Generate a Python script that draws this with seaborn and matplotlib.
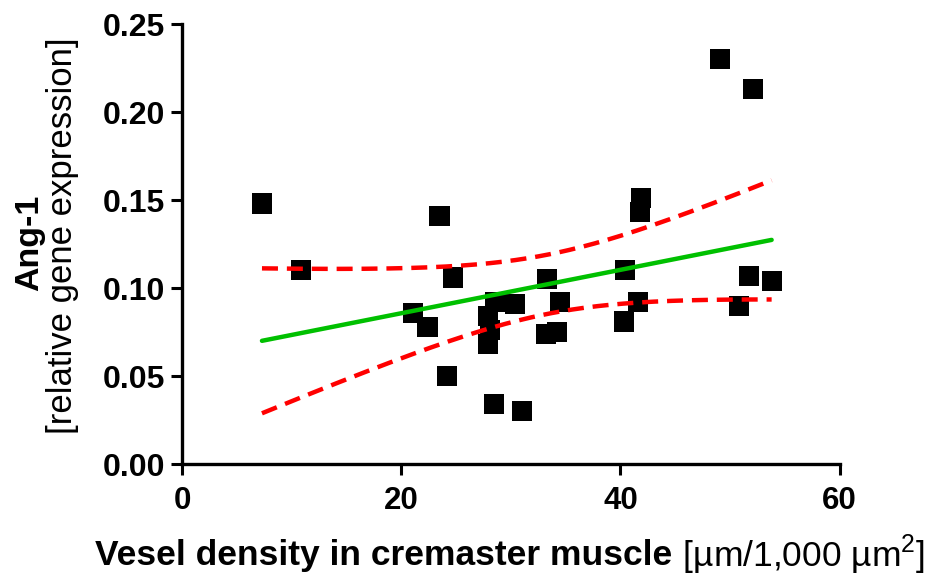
import numpy as np
import pandas as pd
import matplotlib
matplotlib.use("Agg")
import matplotlib.pyplot as plt
import seaborn as sns

# Data
vessel_density = [7.3, 10.9, 21.1, 22.4, 23.5, 24.2, 24.7, 27.9, 28.1, 27.9,
                  28.5, 28.6, 30.4, 31.0, 33.2, 33.3, 34.2, 34.5, 40.3, 40.4,
                  41.6, 41.8, 41.9, 49.1, 50.8, 51.7, 52.1, 53.8]
ang1_expr = [0.148, 0.110, 0.086, 0.078, 0.141, 0.050, 0.106, 0.084, 0.076, 0.068,
             0.034, 0.092, 0.091, 0.030, 0.074, 0.105, 0.075, 0.092, 0.081, 0.110,
             0.092, 0.143, 0.151, 0.230, 0.090, 0.107, 0.213, 0.104]
x_ticks = [0, 20, 40, 60]
y_ticks = [0.00, 0.05, 0.10, 0.15, 0.20, 0.25]

sns.set_theme(style="ticks")
plt.rcParams['font.family'] = ['Liberation Sans', 'DejaVu Sans']
plt.rcParams['text.color'] = 'black'
plt.rcParams['xtick.color'] = 'black'
plt.rcParams['ytick.color'] = 'black'
plt.rcParams['axes.labelcolor'] = 'black'
plt.rcParams['mathtext.fontset'] = 'custom'
plt.rcParams['mathtext.rm'] = 'Liberation Sans'

df = pd.DataFrame({"x": vessel_density, "y": ang1_expr})

# Linear regression with 95% confidence bands
x = np.asarray(vessel_density)
y = np.asarray(ang1_expr)
n = len(x)
slope, intercept = np.polyfit(x, y, 1)
xs = np.linspace(x.min(), x.max(), 200)
fit = intercept + slope * xs
resid = y - (intercept + slope * x)
s = np.sqrt(np.sum(resid ** 2) / (n - 2))
sxx = np.sum((x - x.mean()) ** 2)
tval = 2.056
half = tval * s * np.sqrt(1.0 / n + (xs - x.mean()) ** 2 / sxx)
band = pd.DataFrame({"x": xs, "fit": fit, "lo": fit - half, "hi": fit + half})

fig = plt.figure(figsize=(9.36, 5.8), dpi=100)
ax = fig.add_axes([0.1944, 0.2, 0.897 - 0.1944, 0.9586 - 0.2])

sns.scatterplot(data=df, x="x", y="y", marker="s", s=210, color="black",
                edgecolor="none", ax=ax, zorder=3)
sns.lineplot(data=band, x="x", y="fit", color="#00c000", lw=3.2, ax=ax, zorder=4)
sns.lineplot(data=band, x="x", y="lo", color="#ff0000", lw=3.2, ax=ax, zorder=4,
             dashes=False, linestyle=(0, (3.6, 2.0)))
sns.lineplot(data=band, x="x", y="hi", color="#ff0000", lw=3.2, ax=ax, zorder=4,
             dashes=False, linestyle=(0, (3.6, 2.0)))

ax.set_xlim(0, 60)
ax.set_ylim(0, 0.25)
ax.set_xticks(x_ticks)
ax.set_yticks(y_ticks)
ax.set_xticklabels([str(t) for t in x_ticks], fontsize=22.5, fontweight="bold")
ax.set_yticklabels([f"{t:.2f}" for t in y_ticks], fontsize=23, fontweight="bold")
ax.tick_params(axis="both", length=8, width=2.2, color="black", pad=4)
ax.tick_params(axis="x", pad=8)
for side in ["top", "right"]:
    ax.spines[side].set_visible(False)
for side in ["left", "bottom"]:
    ax.spines[side].set_linewidth(2.4)
    ax.spines[side].set_color("black")
ax.set_xlabel("")
ax.set_ylabel("")

# X label: bold part + normal part
fig.canvas.draw()
renderer = fig.canvas.get_renderer()
ylab = 1 - 555 / 580
t1 = fig.text(0, ylab, "Vesel density in cremaster muscle", fontsize=25.5,
              fontweight="bold", ha="left", va="center")
t2 = fig.text(0, ylab, r" [µm/1,000 µm$^{2}$]", fontsize=25.5,
              ha="left", va="center")
fig.canvas.draw()
w1 = t1.get_window_extent(renderer).width
w2 = t2.get_window_extent(renderer).width
total = w1 + w2
cx = (90 + 930) / 2
x0 = cx - total / 2
t1.set_x(x0 / 936)
t2.set_x((x0 + w1) / 936)

# Y label: two lines
fig.text(30 / 936, 1 - 243 / 580, "Ang-1", fontsize=24.5, fontweight="bold",
         rotation=90, ha="center", va="center")
fig.text(63 / 936, 1 - 236 / 580, "[relative gene expression]", fontsize=25,
         rotation=90, ha="center", va="center")

fig.savefig("out.png", dpi=100)
